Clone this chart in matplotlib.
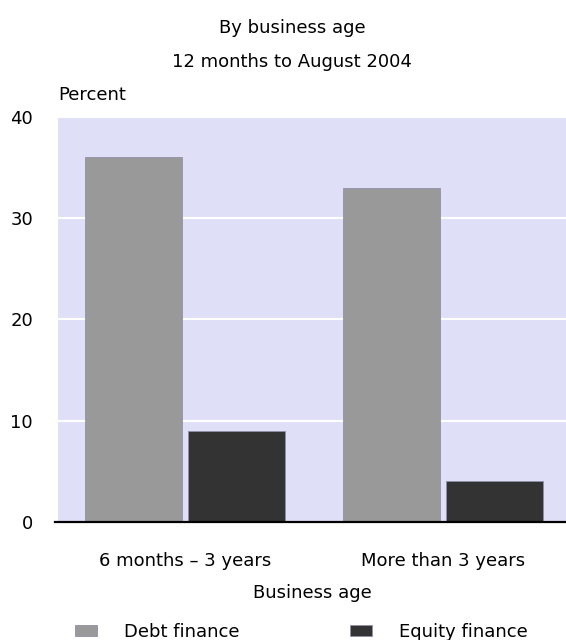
import matplotlib.pyplot as plt
import numpy as np

plt.rcParams['font.family'] = 'DejaVu Sans'

ages = ['6 months \u2013 3 years', 'More than 3 years']
debt_finance = [36, 33]
equity_finance = [9, 4]
y_ticks = [0, 10, 20, 30, 40]

x = np.arange(len(ages))
bar_width = 0.375

fig = plt.figure(figsize=(5.66, 6.40), dpi=100)
ax = fig.add_axes([0.1025, 0.1848, 0.8975, 0.6324])
ax.set_facecolor('#dfdff7')

ax.bar(x - 0.2, debt_finance, bar_width, color='#999999', edgecolor='#9090a8', linewidth=0.6, label='Debt finance', zorder=3)
ax.bar(x + 0.2, equity_finance, bar_width, color='#333333', edgecolor='#9090a8', linewidth=0.6, label='Equity finance', zorder=3)

ax.set_ylim(0, 40)
ax.set_xlim(-0.4926, 1.478)
ax.set_yticks(y_ticks)
ax.set_xticks(x)
ax.set_xticklabels(ages, fontsize=13)
ax.tick_params(axis='y', length=0, pad=18, labelsize=13)
ax.tick_params(axis='x', length=0, pad=22)

ax.grid(axis='y', color='white', linewidth=1.5, zorder=1)
ax.set_axisbelow(True)
for side in ['top', 'right', 'left', 'bottom']:
    ax.spines[side].set_visible(False)
# zero line, running a little past the left edge of the plot area
ax.axhline(0, xmin=-0.006, xmax=1, color='black', linewidth=1.6, clip_on=False, zorder=4)

ax.set_xlabel('Business age', fontsize=13, labelpad=10)

fig.text(0.516, 1 - 33 / 640, 'By business age', ha='center', va='baseline', fontsize=13)
fig.text(0.516, 1 - 67 / 640, '12 months to August 2004', ha='center', va='baseline', fontsize=13)
fig.text(58 / 566, 1 - 100 / 640, 'Percent', ha='left', va='baseline', fontsize=13)

fig.legend(loc='center', bbox_to_anchor=(0.533, 1 - 632 / 640), ncol=2, frameon=False,
           fontsize=13, handlelength=1.22, handleheight=0.6, handletextpad=1.5,
           columnspacing=6.1, borderaxespad=0)

fig.savefig('out.png', dpi=100)
